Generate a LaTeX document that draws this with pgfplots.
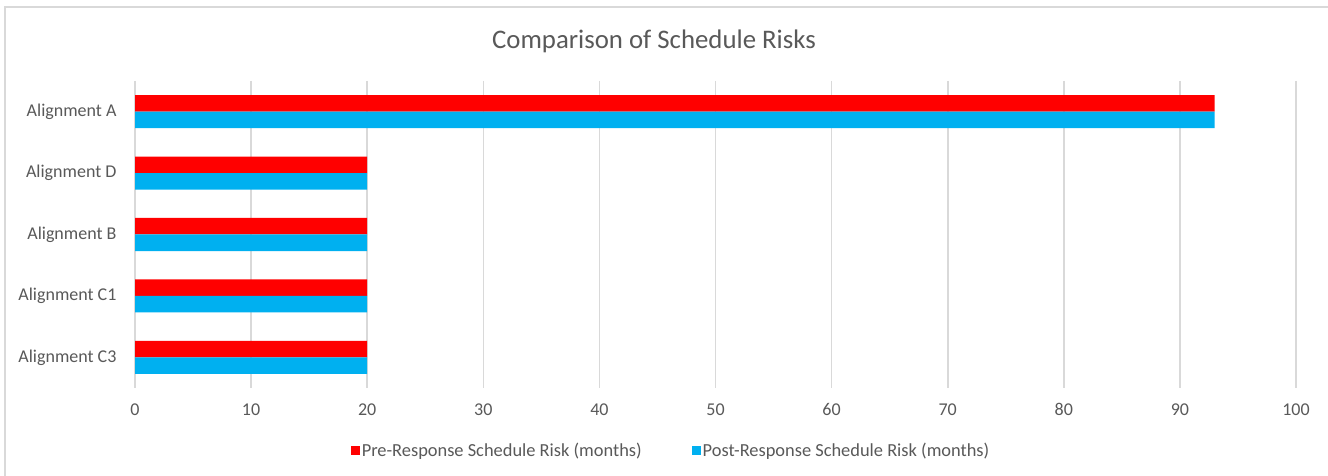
\documentclass[border=0pt]{standalone}
\usepackage{pgfplots}
\pgfplotsset{compat=1.18}
\usepackage{fontspec}
\setmainfont{Carlito}
\definecolor{preRed}{HTML}{FF0000}
\definecolor{postBlue}{HTML}{00B0F0}
\definecolor{txtGray}{HTML}{595959}
\definecolor{gridGray}{HTML}{D9D9D9}
\begin{document}
\begin{tikzpicture}
\useasboundingbox (0pt,0pt) rectangle (1328pt,476pt);
\fill[white] (0pt,0pt) rectangle (1328pt,476pt);
\draw[gridGray, line width=1.5pt] (5pt,0pt) -- (5pt,469pt) -- (1328pt,469pt);
\node[text=txtGray, font=\fontsize{26.8}{30}\selectfont] at (654pt,435pt) {Comparison of Schedule Risks};
\begin{axis}[
  at={(135pt,88pt)}, anchor=south west,
  scale only axis, width=1161pt, height=307pt,
  xbar, bar width=16.5pt,
  xmin=0, xmax=100,
  ymin=-0.5, ymax=4.5, y dir=reverse,
  ytick={0,1,2,3,4},
  yticklabels={Alignment A,Alignment D,Alignment B,Alignment C1,Alignment C3},
  xtick={0,10,...,100},
  axis line style={draw=none},
  major tick length=0pt,
  xmajorgrids, grid style={gridGray, line width=1.6pt},
  tick label style={text=txtGray, font=\fontsize{18}{21}\selectfont},
  /pgf/number format/assume math mode=true,
  xticklabel style={yshift=-12pt},
  yticklabel style={xshift=-15pt},
  legend columns=2,
  legend style={draw=none, at={(0.4617,-0.205)}, anchor=center,
    font=\fontsize{18.4}{21}\selectfont, text=txtGray,
    /tikz/every even column/.append style={column sep=48pt}},
  legend image code/.code={\fill (0pt,-4.5pt) rectangle (9pt,4.5pt);},
]
\addplot[fill=preRed, draw=none, bar shift=8.25pt] coordinates {(93,0) (20,1) (20,2) (20,3) (20,4)};
\addlegendentry{Pre-Response Schedule Risk (months)}
\addplot[fill=postBlue, draw=none, bar shift=-8.25pt] coordinates {(93,0) (20,1) (20,2) (20,3) (20,4)};
\addlegendentry{Post-Response Schedule Risk (months)}
\end{axis}
\end{tikzpicture}
\end{document}
